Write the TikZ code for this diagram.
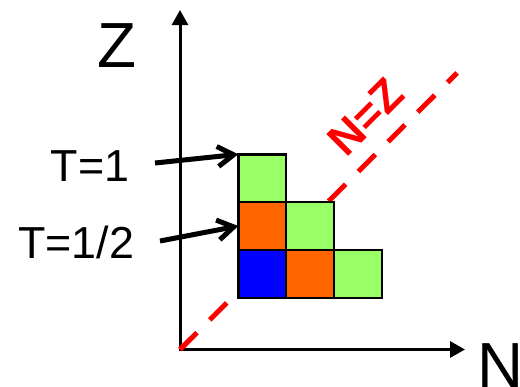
\documentclass[tikz,border=0pt]{standalone}
\usepackage{fontspec}
\setmainfont{Liberation Sans}
\usetikzlibrary{arrows.meta}
\definecolor{cgreen}{HTML}{99FF66}
\definecolor{corange}{HTML}{FF6600}
\definecolor{cblue}{HTML}{0000FF}
\definecolor{cred}{HTML}{FF0000}
\begin{document}
\begin{tikzpicture}[x=1bp,y=-1bp,
 cell/.style={draw=black, line width=2.4bp, minimum size=47.8bp, inner sep=0pt, outer sep=0pt},
 axis/.style={line width=3bp, -{Triangle[length=15bp,width=16bp]}},
 pointer/.style={line width=5bp, -{Straight Barb[length=16bp,width=20bp]}},
 lbl/.style={inner sep=0pt, font=\fontsize{45}{54}\selectfont},
 big/.style={inner sep=0pt, font=\fontsize{64}{72}\selectfont},
 diag/.style={cred, line width=5bp, dash pattern=on 24bp off 18bp}]
\useasboundingbox (0,0) rectangle (520,386);
% axes
\coordinate (o) at (180,349.5);
\coordinate (ostart) at (180,351);
\coordinate (hstart) at (178.5,349.5);
\coordinate (ztip) at (180,10);
\coordinate (ntip) at (465,349.5);
\draw[axis] (ostart) -- (ztip);
\draw[axis] (hstart) -- (ntip);
% N=Z line
\coordinate (dtip) at (457,73);
\draw[diag] (o) -- (dtip);
% cells
\node[cell, fill=cblue]   (s11) at (262.2,273.8) {};
\node[cell, fill=corange] (s21) at (310.0,273.8) {};
\node[cell, fill=cgreen]  (s31) at (357.8,273.8) {};
\node[cell, fill=corange] (s12) at (262.2,226.0) {};
\node[cell, fill=cgreen]  (s22) at (310.0,226.0) {};
\node[cell, fill=cgreen]  (s13) at (262.2,178.2) {};
% labels
\node[big, anchor=base] (zl) at (116.5,67) {Z};
\node[big, anchor=base west] (nl) at (477,387) {N};
\node[lbl, anchor=base] (t1) at (90,181) {T=1};
\node[lbl, anchor=base] (t2) at (76,258) {T=1/2};
\node[lbl, font=\bfseries\fontsize{45}{54}\selectfont, text=cred, rotate=45] (nz) at (366,117) {N=Z};
% pointers
\coordinate (a1) at (155,163);
\coordinate (a2) at (160,241);
\draw[pointer] (a1) -- (s13.north west);
\draw[pointer] (a2) -- (s12.west);
\end{tikzpicture}
\end{document}
